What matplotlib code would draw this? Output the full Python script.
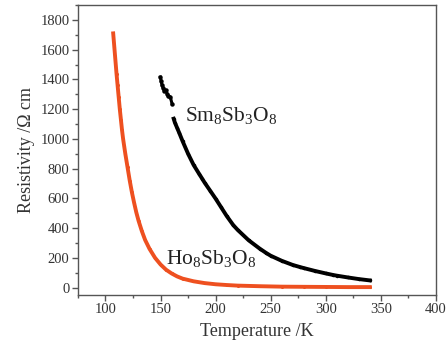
import matplotlib
matplotlib.use("Agg")
import matplotlib.pyplot as plt
from matplotlib.ticker import MultipleLocator

plt.rcParams['font.family'] = ['Liberation Serif', 'DejaVu Serif']
plt.rcParams['mathtext.fontset'] = 'custom'
plt.rcParams['mathtext.rm'] = 'Liberation Serif'
plt.rcParams['mathtext.it'] = 'Liberation Serif:italic'
plt.rcParams['mathtext.bf'] = 'Liberation Serif:bold'

# Ho8Sb3O8 data
ho_T = [107, 108, 109, 110, 111, 112, 113, 114, 115, 116, 117, 118, 120, 122, 124,
        126, 128, 130, 133, 136, 140, 145, 150, 155, 160, 165, 170, 180, 190, 200,
        210, 220, 240, 260, 280, 300, 320, 340]
ho_rho = [1710, 1620, 1530, 1440, 1360, 1280, 1200, 1130, 1060, 1000, 950, 900, 810,
          720, 640, 570, 505, 450, 380, 320, 260, 200, 155, 120, 95, 75, 60, 42, 30,
          22, 17, 13, 9, 6, 5, 4, 3, 3]

# Sm8Sb3O8 data: noisy low-temperature cluster, then the continuous branch
sm_T_low = [149.8, 150.5, 151.4, 152.5, 153.5, 154.5, 155.9, 157, 158.9, 160.4]
sm_rho_low = [1416, 1390, 1360, 1340, 1320, 1330, 1304, 1290, 1281, 1237]
sm_T = [161.9, 163, 165, 167, 170, 175, 180, 185, 188, 190, 195, 200, 205, 210,
        216, 220, 230, 240, 246, 250, 260, 270, 277, 280, 290, 300, 307, 310,
        320, 330, 340]
sm_rho = [1136, 1110, 1075, 1040, 985, 900, 825, 765, 730, 706, 652, 598, 540, 482,
          420, 388, 318, 262, 232, 214, 180, 152, 137, 131, 112, 95, 84, 80,
          68, 57, 48]

x_ticks = [100, 150, 200, 250, 300, 350, 400]
y_ticks = [0, 200, 400, 600, 800, 1000, 1200, 1400, 1600, 1800]

fig = plt.figure(figsize=(4.48, 3.43), dpi=100)
ax = fig.add_axes([0.174, 0.140, 0.799, 0.845])

ax.plot(ho_T, ho_rho, color='#ee5020', lw=2.8, marker='o', ms=2.2,
        markeredgewidth=0)
ax.plot(sm_T_low, sm_rho_low, color='black', lw=2.2, marker='o', ms=3.2,
        markeredgewidth=0)
ax.plot(sm_T, sm_rho, color='black', lw=2.8, marker='o', ms=2.5,
        markeredgewidth=0)

ax.set_xlim(75, 400)
ax.set_ylim(-50, 1900)
ax.set_xticks(x_ticks)
ax.set_yticks(y_ticks)
ax.xaxis.set_minor_locator(MultipleLocator(25))
ax.yaxis.set_minor_locator(MultipleLocator(100))

frame_col = '#555555'
for s in ax.spines.values():
    s.set_color(frame_col)
    s.set_linewidth(1.0)
ax.tick_params(axis='both', which='major', direction='out', length=4, width=1,
               color=frame_col, labelsize=10.5, labelcolor='#333333', pad=2)
ax.tick_params(axis='both', which='minor', direction='out', length=2, width=1,
               color=frame_col)

ax.set_xlabel('Temperature /K', fontsize=13, color='#333333', labelpad=5)
ax.set_ylabel('Resistivity /\u03a9 cm', fontsize=13, color='#333333', labelpad=4)

ax.text(172, 1160, r'Sm$_8$Sb$_3$O$_8$', fontsize=15.5, color='#222222',
        va='center', ha='left')
ax.text(155, 195, r'Ho$_8$Sb$_3$O$_8$', fontsize=15.5, color='#222222',
        va='center', ha='left')

fig.savefig('out.png', dpi=100)
